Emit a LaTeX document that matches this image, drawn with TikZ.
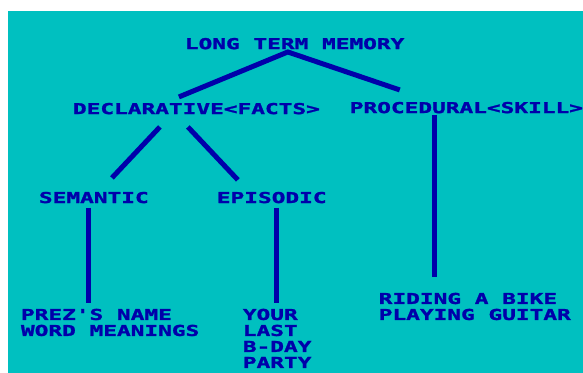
\documentclass[tikz,border=0pt]{standalone}
\usepackage{fontspec}
\usepackage{xcolor}
\usepackage{tikz}
\usetikzlibrary{positioning,calc}
\newfontfamily\dosfont[FakeStretch=1.52,FakeBold=1.6]{DejaVu Sans Mono}
\definecolor{screen}{HTML}{00C0C0}
\definecolor{ink}{HTML}{0000AA}

\begin{document}
\begin{tikzpicture}[
    x=1pt, y=-1pt,
    txt/.style={anchor=north west, inner sep=0pt, outer sep=0pt, text=ink, align=left,
        font=\dosfont\bfseries\fontsize{15}{16}\selectfont},
    link/.style={draw=ink, line width=5pt},
]
    \fill[white] (0,0) rectangle (583,373);
    \fill[screen] (8,11) rectangle (583,373);

    \node[txt] (ltm) at (185,38) {LONG TERM MEMORY};
    \node[txt] (decl) at (73,103) {DECLARATIVE<FACTS>};
    \node[txt] (proc) at (350,102) {PROCEDURAL<SKILL>};
    \node[txt] (sem) at (39,192) {SEMANTIC};
    \node[txt] (epi) at (217,192) {EPISODIC};
    \node[txt] (semleaf) at (21,309) {PREZ'S NAME\\WORD MEANINGS};
    \node[txt] (epileaf) at (243,309) {YOUR\\LAST\\B-DAY\\PARTY};
    \node[txt] (procleaf) at (379,293) {RIDING A BIKE\\PLAYING GUITAR};

    \draw[link] ([shift={(106,-6)}]decl.north west) -- ([shift={(103,14)}]ltm.north west)
        -- ([shift={(50,-12)}]proc.north west);
    \draw[link] ([shift={(87,24)}]decl.north west) -- ([shift={(73,-14)}]sem.north west);
    \draw[link] ([shift={(115,24)}]decl.north west) -- ([shift={(21,-12)}]epi.north west);
    \draw[link] ([shift={(50,16)}]sem.north west) -- ([shift={(68,-6)}]semleaf.north west);
    \draw[link] ([shift={(60,16)}]epi.north west) -- ([shift={(34,-6)}]epileaf.north west);
    \draw[link] ([shift={(85,13)}]proc.north west) -- ([shift={(56,-16)}]procleaf.north west);
\end{tikzpicture}
\end{document}
